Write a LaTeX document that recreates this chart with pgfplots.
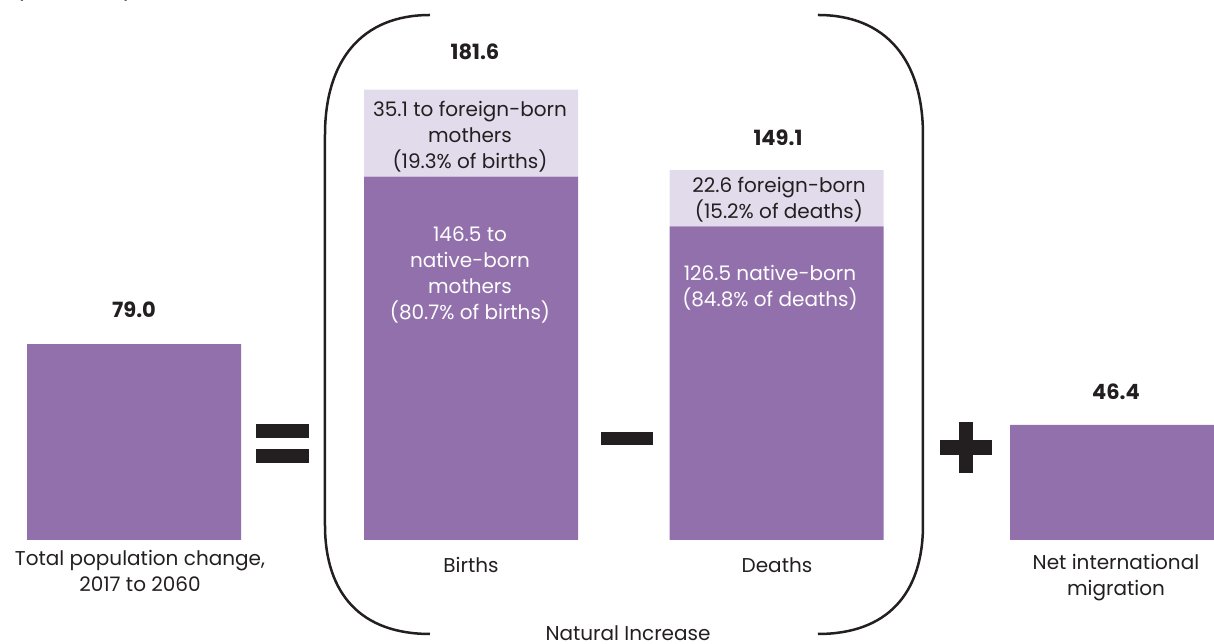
\documentclass[border=0pt]{standalone}
\usepackage{pgfplots}
\pgfplotsset{compat=1.18}
\usepackage{fontspec}
\setmainfont{Poppins}
\definecolor{barpurple}{HTML}{9270AC}
\definecolor{lightpurple}{HTML}{E2DBEC}
\definecolor{ink}{HTML}{231F20}
\begin{document}
\begin{tikzpicture}
\useasboundingbox (0,0) rectangle (607bp,322bp);
\begin{axis}[
  at={(0,0)}, anchor=south west,
  scale only axis, width=607bp, height=322bp,
  xmin=0, xmax=1214, ymin=-41.94, ymax=217.74,
  hide axis, ybar stacked, bar width=214,
]
\addplot[fill=barpurple, draw=none] coordinates {(134,79.0) (471,146.5) (776.5,126.5) (1117,46.4)};
\addplot[fill=lightpurple, draw=none] coordinates {(134,0) (471,35.1) (776.5,22.6) (1117,0)};
\end{axis}
\begin{scope}[x=0.5bp,y=-0.5bp,yshift=322bp,
  txt/.style={font=\fontsize{10bp}{13bp}\selectfont, align=center, text=ink},
  wtxt/.style={font=\fontsize{10bp}{13bp}\selectfont, align=center, text=white},
  num/.style={font=\fontsize{10.5bp}{13bp}\selectfont\bfseries, text=ink}]
\node[anchor=base west, txt] at (8,-2) {(in millions)};
% values
\node[num] at (134,310) {79.0};
\node[num] at (475,52) {181.6};
\node[num] at (778,138) {149.1};
\node[num] at (1116,392) {46.4};
% inner labels
\node[txt] at (470,136.5) {35.1 to foreign-born\\mothers\\(19.3\% of births)};
\node[wtxt] at (470,275) {146.5 to\\native-born\\mothers\\(80.7\% of births)};
\node[txt] at (779,200) {22.6 foreign-born\\(15.2\% of deaths)};
\node[wtxt] at (770,288) {126.5 native-born\\(84.8\% of deaths)};
% category labels
\node[txt] at (140,571) {Total population change,\\2017 to 2060};
\node[txt] at (471,565) {Births};
\node[txt] at (777,565) {Deaths};
\node[txt] at (1116,578) {Net international\\migration};
\node[txt, anchor=base] at (628,641) {Natural Increase};
% operators
\fill[ink] (256,424) rectangle (309,438);
\fill[ink] (256,449) rectangle (309,463);
\fill[ink] (601,432) rectangle (653,445);
\fill[ink] (940,440) rectangle (992,455);
\fill[ink] (959,422) rectangle (973,473);
% brackets
\draw[ink, line width=1.25bp] (430,15) .. controls (362,15) and (325,60) .. (325,135) -- (325,525) .. controls (325,595) and (362,634) .. (430,634);
\draw[ink, line width=1.25bp] (818,15) .. controls (886,15) and (923,60) .. (923,135) -- (923,525) .. controls (923,595) and (886,634) .. (818,634);
\end{scope}
\end{tikzpicture}
\end{document}
